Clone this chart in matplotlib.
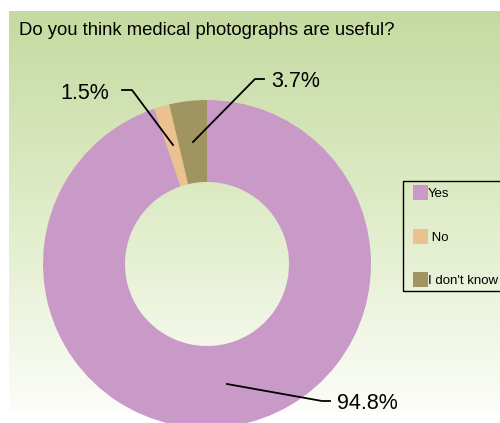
import numpy as np
import matplotlib
matplotlib.use("Agg")
import matplotlib.pyplot as plt
from matplotlib.colors import LinearSegmentedColormap
from matplotlib.patches import Rectangle

plt.rcParams['font.family'] = ['Liberation Sans', 'DejaVu Sans']

title = "Do you think medical photographs are useful?"
categories = ["Yes", "No", "I don't know"]
values = [94.8, 1.5, 3.7]
labels_pct = ["94.8%", "1.5%", "3.7%"]
colors = ["#C99AC8", "#EBC18F", "#A09560"]

W, H = 500, 423
fig = plt.figure(figsize=(W / 100, H / 100), dpi=100)
ax = fig.add_axes([0, 0, 1, 1])
ax.set_xlim(0, W)
ax.set_ylim(0, H)
ax.set_aspect('equal')
ax.axis('off')

# background panel gradient (top green -> bottom near white)
grad = np.linspace(0, 1, 256).reshape(-1, 1)
cmap = LinearSegmentedColormap.from_list(
    "bg", [(0.0, "#C5DAA0"), (0.55, "#E2EECD"), (1.0, "#FCFDF9")])
ax.imshow(grad, cmap=cmap, aspect='auto', extent=[9, W, H - 412, H - 11],
          origin='upper', zorder=0)

cx, cy, R = 207, H - 264, 164
wedges, _ = ax.pie(values, colors=colors, startangle=90, counterclock=False,
                   radius=R, center=(cx, cy), frame=True,
                   wedgeprops=dict(width=R * 0.5, linewidth=0))
ax.set_xlim(0, W)
ax.set_ylim(0, H)
ax.axis('off')

# leader lines and labels
def leader(pts, text, tx, ty, ha):
    xs = [p[0] for p in pts]
    ys = [H - p[1] for p in pts]
    ax.plot(xs, ys, color='black', lw=1.3, zorder=5)
    ax.text(tx, H - ty, text, fontsize=15.5, ha=ha, va='center', zorder=6)

leader([(227, 384), (322, 401), (330, 401)], labels_pct[0], 337, 403, 'left')
leader([(173, 145), (132, 90), (122, 90)], labels_pct[1], 109, 93, 'right')
leader([(193, 142), (255, 79), (264, 79)], labels_pct[2], 271, 81, 'left')

ax.text(19, H - 30, title, fontsize=13.3, ha='left', va='center', zorder=6)

# legend frame (extends past the right edge, as in the original)
ax.add_patch(Rectangle((403, H - 291), 110, 110, fill=False, edgecolor='black',
                       linewidth=1.0, zorder=6, clip_on=False))

leg_labels = ["Yes", " No", "I don't know"]
leg = ax.legend(wedges, leg_labels, loc='upper left',
                bbox_to_anchor=(413 / W, 1 - 185 / H), bbox_transform=fig.transFigure,
                fontsize=9.5, frameon=False,
                handlelength=1.1, handleheight=1.4,
                handletextpad=0.05, labelspacing=2.15, borderpad=0,
                borderaxespad=0)

fig.savefig("out.png", dpi=100, facecolor='white')
